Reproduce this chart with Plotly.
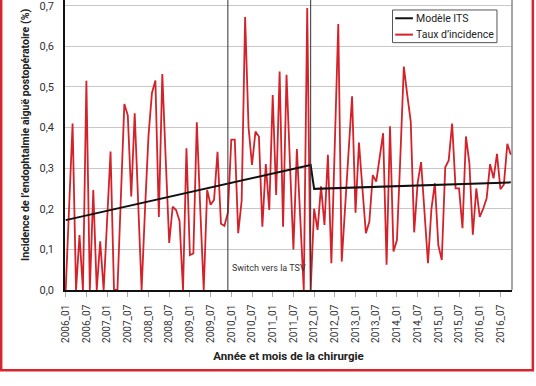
import plotly.graph_objects as go

# ---------------- data ----------------
months = [f"{y}_{m:02d}" for y in range(2006, 2017) for m in range(1, 13)][:130]  # 2006_01 .. 2016_10

tick_labels = ["2006_01", "2006_07", "2007_01", "2007_07", "2008_01", "2008_07",
               "2009_01", "2009_07", "2010_01", "2010_07", "2011_01", "2011_07",
               "2012_01", "2012_07", "2013_01", "2013_07", "2014_01", "2014_07",
               "2015_01", "2015_07", "2016_01", "2016_07"]

incidence = [
    0.0, 0.20, 0.41, 0.0, 0.135, 0.0, 0.515, 0.0, 0.246, 0.0,
    0.12, 0.0, 0.17, 0.341, 0.0, 0.0, 0.23, 0.458, 0.43, 0.23,
    0.435, 0.21, 0.0, 0.20, 0.38, 0.485, 0.516, 0.18, 0.532, 0.32,
    0.116, 0.205, 0.197, 0.17, 0.0, 0.349, 0.086, 0.09, 0.413, 0.20,
    0.0, 0.246, 0.21, 0.222, 0.34, 0.163, 0.158, 0.19, 0.37, 0.37,
    0.14, 0.22, 0.672, 0.40, 0.308, 0.39, 0.378, 0.156, 0.31, 0.197,
    0.48, 0.234, 0.538, 0.156, 0.53, 0.31, 0.10, 0.347, 0.17, 0.0,
    0.694, 0.0, 0.20, 0.148, 0.255, 0.16, 0.333, 0.066, 0.36, 0.655,
    0.07, 0.20, 0.34, 0.477, 0.19, 0.363, 0.25, 0.14, 0.168, 0.283,
    0.267, 0.33, 0.386, 0.062, 0.403, 0.095, 0.123, 0.33, 0.55, 0.48,
    0.415, 0.142, 0.263, 0.315, 0.19, 0.066, 0.20, 0.263, 0.11, 0.074,
    0.302, 0.319, 0.41, 0.25, 0.25, 0.152, 0.378, 0.312, 0.136, 0.25,
    0.18, 0.20, 0.226, 0.31, 0.275, 0.335, 0.248, 0.26, 0.36, 0.333,
]

model_months = ["2006_01", "2011_12", "2012_01", "2016_10"]
model_values = [0.172, 0.308, 0.249, 0.265]

event_months = ["2009_12", "2011_12"]
event_label = "Switch vers la TSV"

series_names = ["Modèle ITS", "Taux d’incidence"]

y_ticks = [0.0, 0.1, 0.2, 0.3, 0.4, 0.5, 0.6, 0.7]

# ---------------- figure ----------------
FONT = "Roboto"
RED = "#d3222a"
BLACK = "#111111"

fig = go.Figure()
fig.add_trace(go.Scatter(
    x=months, y=incidence, mode="lines", name=series_names[1],
    line=dict(color=RED, width=1.8), showlegend=False))
fig.add_trace(go.Scatter(
    x=model_months, y=model_values, mode="lines", name=series_names[0],
    line=dict(color=BLACK, width=2), showlegend=False))

for em in event_months:
    fig.add_shape(type="line", xref="x", yref="paper", x0=em, x1=em, y0=0, y1=1.05,
                  line=dict(color="#333333", width=1), layer="above")

fig.add_annotation(x=event_months[0], y=0.0775, xref="x", yref="paper",
                   text=event_label, showarrow=False, xanchor="left", yanchor="middle",
                   xshift=2, font=dict(family=FONT, size=9, color="#333333"))

# y axis title (placed as in the original)
fig.add_annotation(x=-0.0869, y=0.094, xref="paper", yref="paper",
                   text="<b>Incidence de l’endophtalmie aiguë postopératoire (%)</b>",
                   textangle=-90, showarrow=False, xanchor="center", yanchor="bottom",
                   font=dict(family=FONT, size=10.6, color="#222222"))

# right grey border of plot area
fig.add_shape(type="line", xref="paper", yref="paper", x0=1, x1=1, y0=0, y1=1.05,
              line=dict(color="#8a8a8a", width=1.5))

# red outer frame
fig.add_shape(type="rect", xref="paper", yref="paper", x0=-0.1428, x1=1.0466,
              y0=-0.277, y1=1.2, line=dict(color="#d9262e", width=2.5))

# legend box (drawn in the style of the original)
fig.add_shape(type="rect", xref="paper", yref="paper", x0=0.7327, x1=0.9664,
              y0=0.853, y1=0.9656, line=dict(color="#555555", width=1),
              fillcolor="white", layer="above")
legend_rows = [(0.937, BLACK, series_names[0]), (0.8806, RED, series_names[1])]
for ly, col, name in legend_rows:
    fig.add_shape(type="line", xref="paper", yref="paper", x0=0.7387, x1=0.7784,
                  y0=ly, y1=ly, line=dict(color=col, width=2), layer="above")
    fig.add_annotation(x=0.7813, y=ly, xref="paper", yref="paper", text=name,
                       showarrow=False, xanchor="left", yanchor="middle",
                       font=dict(family=FONT, size=10.5, color="#222222"))

fig.update_layout(
    width=536, height=386,
    margin=dict(l=65, r=24.3, t=0, b=95.5, autoexpand=False),
    paper_bgcolor="white", plot_bgcolor="white",
    separators=", ",
    font=dict(family=FONT, color="#333333"),
    showlegend=False,
    xaxis=dict(type="category", categoryorder="array", categoryarray=months,
               range=[-0.2, 129.35], tickmode="array", tickvals=tick_labels,
               ticktext=tick_labels, tickangle=-90, automargin=False,
               tickfont=dict(family=FONT, size=10, color="#333333"),
               ticks="outside", ticklen=5, tickcolor="#aaaaaa", ticklabelstandoff=4,
               showgrid=False, zeroline=False,
               showline=True, linecolor="#111111", linewidth=1.5,
               title=dict(text="<b>Année et mois de la chirurgie</b>", standoff=10,
                          font=dict(family=FONT, size=11.5, color="#222222"))),
    yaxis=dict(range=[0, 0.714], tickmode="array", tickvals=y_ticks,
               tickformat=".1f", automargin=False, ticklabeloverflow="allow",
               tickfont=dict(family=FONT, size=11, color="#333333"),
               ticks="outside", ticklen=7, tickcolor="rgba(0,0,0,0)",
               showgrid=True, gridcolor="#c8c8c8", gridwidth=1, zeroline=False,
               showline=True, linecolor="#111111", linewidth=1.5),
)

fig.write_html("out.html", config={"displayModeBar": False},
               post_script="document.body.style.margin='0';document.body.style.padding='0';")
